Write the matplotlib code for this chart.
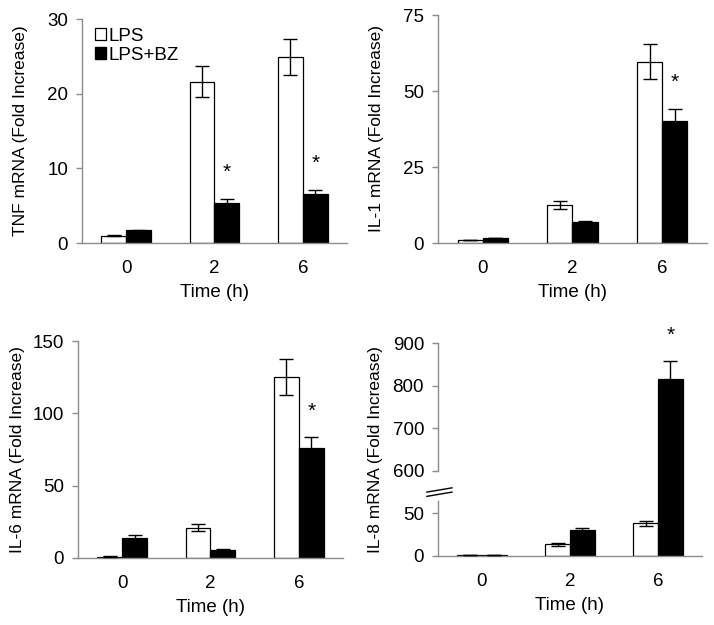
import numpy as np
import matplotlib
matplotlib.use("Agg")
import matplotlib.pyplot as plt
from matplotlib.patches import Patch

plt.rcParams['font.family'] = ['Liberation Sans', 'DejaVu Sans']

times = ['0', '2', '6']
series_names = ['LPS', 'LPS+BZ']

tnf_lps = [1.0, 21.6, 24.9]
tnf_lps_err = [0.1, 2.1, 2.4]
tnf_bz = [1.7, 5.4, 6.5]
tnf_bz_err = [0.1, 0.5, 0.6]
tnf_stars = [False, True, True]

il1_lps = [1.0, 12.4, 59.7]
il1_lps_err = [0.1, 1.3, 5.9]
il1_bz = [1.6, 6.9, 40.2]
il1_bz_err = [0.1, 0.5, 3.9]
il1_stars = [False, False, True]

il6_lps = [1.0, 21.0, 125.1]
il6_lps_err = [0.2, 2.5, 12.2]
il6_bz = [13.8, 5.8, 76.0]
il6_bz_err = [1.9, 0.5, 7.4]
il6_stars = [False, False, True]

il8_lps = [1.0, 13.8, 38.2]
il8_lps_err = [0.2, 1.5, 3.0]
il8_bz = [1.0, 30.3, 816.0]
il8_bz_err = [0.2, 2.7, 41.0]
il8_stars = [False, False, True]

AXIS_GRAY = '#8c8c8c'
BAR_W = 0.28
FS = 13.5


def il8_forward(v):
    v = np.asarray(v, dtype=float)
    return np.where(v <= 75, v, np.where(v < 550, 75, 75 + (v - 550) * 0.5))


def il8_inverse(u):
    u = np.asarray(u, dtype=float)
    return np.where(u <= 75, u, 550 + (u - 75) * 2.0)


def draw_panel(ax, lps, lps_err, bz, bz_err, stars, ylabel, yticks, ymax, label_x):
    x = np.arange(len(times))
    ax.bar(x - BAR_W / 2, lps, BAR_W, color='white', edgecolor='black', linewidth=0.9, zorder=2)
    ax.bar(x + BAR_W / 2, bz, BAR_W, color='black', edgecolor='black', linewidth=0.9, zorder=2)
    ax.errorbar(x - BAR_W / 2, lps, yerr=lps_err, fmt='none', ecolor='black',
                elinewidth=1, capsize=5, capthick=1, zorder=3)
    ax.errorbar(x + BAR_W / 2, bz, yerr=bz_err, fmt='none', ecolor='black',
                elinewidth=1, capsize=5, capthick=1, zorder=3)
    for i, s in enumerate(stars):
        if s:
            ax.annotate('*', (x[i] + BAR_W / 2, bz[i] + bz_err[i]), xytext=(0, 12),
                        textcoords='offset points', ha='center', va='bottom', fontsize=15)

    ax.set_xlim(-0.5, len(times) - 0.5)
    ax.set_ylim(0, ymax)
    ax.set_xticks(x)
    ax.set_xticklabels(times)
    ax.set_yticks(yticks)
    ax.set_yticklabels([str(t) for t in yticks])
    ax.set_xlabel('Time (h)', fontsize=FS, labelpad=5)
    ax.set_ylabel(ylabel, fontsize=12.5)
    ax.yaxis.label.set_verticalalignment('center')
    ax.yaxis.set_label_coords(label_x, 0.5)
    ax.tick_params(axis='x', length=0, pad=12, labelsize=FS)
    ax.tick_params(axis='y', length=4, width=1, color=AXIS_GRAY, pad=6, labelsize=FS)
    for side in ['top', 'right']:
        ax.spines[side].set_visible(False)
    for side in ['left', 'bottom']:
        ax.spines[side].set_color(AXIS_GRAY)
        ax.spines[side].set_linewidth(1)


fig = plt.figure(figsize=(7.14, 6.25), dpi=100)

ax1 = fig.add_axes([0.1148, 0.6112, 0.3712, 0.3584])
draw_panel(ax1, tnf_lps, tnf_lps_err, tnf_bz, tnf_bz_err, tnf_stars,
           'TNF mRNA (Fold Increase)', [0, 10, 20, 30], 30, -0.232)
handles = [Patch(facecolor='white', edgecolor='black', linewidth=0.9),
           Patch(facecolor='black', edgecolor='black')]
ax1.legend(handles, series_names, loc='upper left', bbox_to_anchor=(0.02, 0.995),
           frameon=False, fontsize=FS, handlelength=0.6, handleheight=0.6,
           handletextpad=0.15, labelspacing=0.12, borderaxespad=0)

ax2 = fig.add_axes([0.6134, 0.6112, 0.3768, 0.3648])
draw_panel(ax2, il1_lps, il1_lps_err, il1_bz, il1_bz_err, il1_stars,
           'IL-1 mRNA (Fold Increase)', [0, 25, 50, 75], 75, -0.227)

ax3 = fig.add_axes([0.1092, 0.1072, 0.3712, 0.3472])
draw_panel(ax3, il6_lps, il6_lps_err, il6_bz, il6_bz_err, il6_stars,
           'IL-6 mRNA (Fold Increase)', [0, 50, 100, 150], 150, -0.23)

ax4 = fig.add_axes([0.6134, 0.1104, 0.3698, 0.3408])
ax4.set_yscale('function', functions=(il8_forward, il8_inverse))
draw_panel(ax4, il8_lps, il8_lps_err, il8_bz, il8_bz_err, il8_stars,
           'IL-8 mRNA (Fold Increase)', [0, 50, 600, 700, 800, 900], 900, -0.235)

# broken axis: hide the spine and draw the two pieces by hand
ax4.spines['left'].set_visible(False)
ax4.plot([-0.5, -0.5], [0, 65], color=AXIS_GRAY, lw=1, clip_on=False, zorder=1)
ax4.plot([-0.5, -0.5], [600, 900], color=AXIS_GRAY, lw=1, clip_on=False, zorder=1)
for dy in [-0.01, 0.01]:
    ax4.plot([-0.042, 0.053], [0.29 + dy, 0.31 + dy], color='black', lw=1,
             transform=ax4.transAxes, clip_on=False)

fig.savefig('out.png', dpi=100)
